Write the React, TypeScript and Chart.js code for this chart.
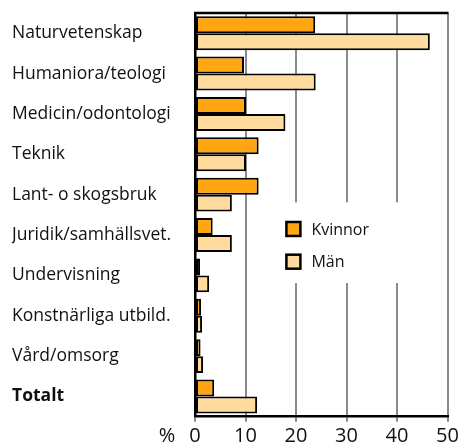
import React, { useEffect, useRef } from "react";
import { Chart, registerables } from "chart.js";

Chart.register(...registerables);

const categories = [
  "Naturvetenskap",
  "Humaniora/teologi",
  "Medicin/odontologi",
  "Teknik",
  "Lant- o skogsbruk",
  "Juridik/samhällsvet.",
  "Undervisning",
  "Konstnärliga utbild.",
  "Vård/omsorg",
  "Totalt",
];
const kvinnor = [23.8, 9.7, 10.1, 12.6, 12.6, 3.5, 1.0, 1.2, 1.1, 3.8];
const man = [46.5, 23.9, 17.9, 10.1, 7.3, 7.3, 2.8, 1.4, 1.6, 12.3];
const seriesNames = ["Kvinnor", "Män"];
const seriesColors = ["#FFA612", "#FFDC9E"];
const xMin = 0;
const xMax = 50;
const xStep = 10;
const unitLabel = "%";

const FONT = "'Open Sans', sans-serif";

const decorPlugin = {
  id: "decor",
  beforeDatasetsDraw(chart: any) {
    const { ctx, chartArea } = chart;
    const w = chartArea.right - chartArea.left;
    const h = chartArea.bottom - chartArea.top;
    const fx = (p: number) => chartArea.left + p * w;
    const fy = (p: number) => chartArea.top + p * h;
    ctx.save();
    // legend backdrop (hides grid lines)
    const bx0 = fx(0.25), bx1 = fx(0.9), by0 = fy(0.469), by1 = fy(0.669);
    ctx.fillStyle = "#ffffff";
    ctx.fillRect(bx0, by0, bx1 - bx0, by1 - by0);
    // legend items
    const boxX = fx(0.362);
    const size = 14;
    const rows = [fy(0.535), fy(0.616)];
    ctx.font = `16px ${FONT}`;
    ctx.textBaseline = "middle";
    ctx.textAlign = "left";
    seriesNames.forEach((name, i) => {
      const cy = rows[i];
      ctx.fillStyle = seriesColors[i];
      ctx.fillRect(boxX, cy - size / 2, size, size);
      ctx.lineWidth = 2.5;
      ctx.strokeStyle = "#000";
      ctx.strokeRect(boxX, cy - size / 2, size, size);
      ctx.fillStyle = "#111";
      ctx.fillText(name, boxX + size + 11, cy + 1);
    });
    ctx.restore();
  },
  afterDraw(chart: any) {
    const { ctx, chartArea, scales } = chart;
    ctx.save();
    // top frame line
    ctx.strokeStyle = "#000";
    ctx.lineWidth = 2.5;
    ctx.beginPath();
    ctx.moveTo(chartArea.left - 1, chartArea.top);
    ctx.lineTo(chartArea.right + 1, chartArea.top);
    ctx.stroke();
    // unit label left of the 0 tick
    const xs = scales.x;
    ctx.font = `20px ${FONT}`;
    ctx.fillStyle = "#111";
    ctx.textAlign = "center";
    ctx.textBaseline = "middle";
    ctx.fillText(unitLabel, xs.getPixelForValue(xMin) - 28, xs.top + 8 + 12);
    ctx.restore();
  },
};

export default function App() {
  const ref = useRef<HTMLCanvasElement>(null);
  useEffect(() => {
    const chart = new Chart(ref.current!, {
      type: "bar",
      data: {
        labels: categories,
        datasets: [
          {
            label: seriesNames[0],
            data: kvinnor,
            backgroundColor: seriesColors[0],
            borderColor: "#000",
            borderWidth: 2,
            borderSkipped: false,
            categoryPercentage: 0.84,
            barPercentage: 1,
          },
          {
            label: seriesNames[1],
            data: man,
            backgroundColor: seriesColors[1],
            borderColor: "#000",
            borderWidth: 2,
            borderSkipped: false,
            categoryPercentage: 0.84,
            barPercentage: 1,
          },
        ],
      },
      options: {
        indexAxis: "y",
        animation: false,
        responsive: true,
        maintainAspectRatio: false,
        layout: { padding: { top: 13, right: 12.5, left: 12, bottom: 0 } },
        plugins: {
          legend: { display: false },
          tooltip: { enabled: false },
        },
        scales: {
          x: {
            min: xMin,
            max: xMax,
            ticks: {
              stepSize: xStep,
              color: "#111",
              font: { family: FONT, size: 20 },
              padding: 3,
              maxRotation: 0,
            },
            grid: {
              color: "#8a8a8a",
              lineWidth: 2,
              tickLength: 5,
              drawOnChartArea: true,
            },
            border: { color: "#000", width: 2.5 },
            afterFit: (s: any) => {
              s.height = 28.3;
              s.paddingLeft = 0;
              s.paddingRight = 0;
            },
          },
          y: {
            ticks: {
              color: "#111",
              crossAlign: "far",
              font: (c: any) =>
                c.index === categories.length - 1
                  ? { family: FONT, size: 17.5, weight: "bold" }
                  : { family: FONT, size: 17.5 },
            },
            grid: { display: false },
            border: { color: "#000", width: 2.5 },
            afterFit: (s: any) => {
              s.width = 183;
              s.paddingTop = 0;
              s.paddingBottom = 0;
            },
          },
        },
      },
      plugins: [decorPlugin],
    } as any);
    return () => chart.destroy();
  }, []);
  return (
    <div style={{ position: "absolute", left: 0, top: 0, width: 460, height: 445 }}>
      <canvas ref={ref} />
    </div>
  );
}
